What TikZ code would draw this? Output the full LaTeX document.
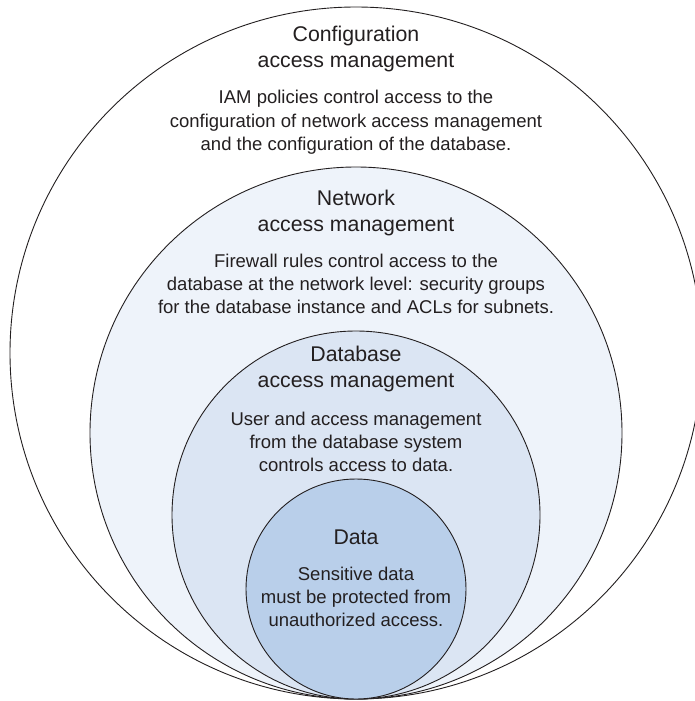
\documentclass[tikz,border=0pt]{standalone}
\usepackage{fontspec}
\setmainfont{Liberation Sans}
\usetikzlibrary{positioning}

\definecolor{inkgray}{HTML}{231F20}
\definecolor{netfill}{HTML}{EEF3FA}
\definecolor{dbfill}{HTML}{DBE5F3}
\definecolor{datafill}{HTML}{B9CFEA}

\begin{document}
\begin{tikzpicture}[
  x=1pt,y=-1pt,
  ring/.style={draw=inkgray,circle,line width=0.9pt,inner sep=0pt},
  ttl/.style={text=inkgray,align=center,inner sep=0pt,font=\fontsize{21.3}{26}\selectfont},
  txt/.style={text=inkgray,align=center,inner sep=0pt,font=\fontsize{18.5}{23.3}\selectfont}
]
  \useasboundingbox (0,0) rectangle (695,701);
  \clip (0,0) rectangle (695,701);

  % nested rings, all touching at the bottom
  \node[ring,fill=white,minimum size=692pt] (cfg) at (356,353) {};
  \node[ring,fill=netfill,minimum size=532pt] (net) at (356,433) {};
  \node[ring,fill=dbfill,minimum size=368pt] (db) at (356,515) {};
  \node[ring,fill=datafill,minimum size=220pt] (data) at (356,589) {};

  % labels
  \node[ttl] (cfgttl) at (356,49) {Configuration\\access management};
  \node[txt] (cfgtxt) at (356,122.5) {IAM policies control access to the\\configuration of network access management\\and the configuration of the database.};

  \node[ttl] (netttl) at (356,212.5) {Network\\access management};
  \node[txt] (nettxt) at (356,284) {Firewall rules control access to the\\database at the network level: security groups\\for the database instance and ACLs for subnets.};

  \node[ttl] (dbttl) at (356,368.5) {Database\\access management};
  \node[txt] (dbtxt) at (356,442) {User and access management\\from the database system\\controls access to data.};

  \node[ttl] (datattl) at (356,537) {Data};
  \node[txt] (datatxt) at (356,597) {Sensitive data\\must be protected from\\unauthorized access.};
\end{tikzpicture}
\end{document}
